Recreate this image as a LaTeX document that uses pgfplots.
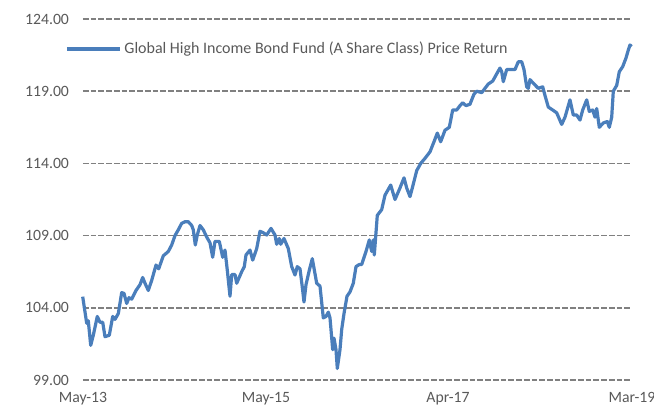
\documentclass[border=0pt]{standalone}
\usepackage{pgfplots}
\pgfplotsset{compat=1.18}
\usepackage{fontspec}
\setmainfont{Carlito}
\definecolor{lineblue}{RGB}{74,126,187}
\definecolor{gridgray}{RGB}{128,128,128}
\definecolor{txtgray}{RGB}{89,89,89}
\begin{document}
\begin{tikzpicture}
\path[use as bounding box] (-62.25pt,-22.5pt) rectangle (428.25pt,285pt);
\begin{axis}[
  scale only axis,
  width=411.75pt, height=270.75pt,
  xmin=0, xmax=549,
  ymin=99, ymax=124,
  ytick={99,104,109,114,119,124},
  xtick={0,183,365,549},
  xticklabels={May-13,May-15,Apr-17,Mar-19},
  axis line style={draw=none},
  major tick length=0pt,
  ymajorgrids,
  grid style={gridgray, line width=1.2pt, dash pattern=on 4.3pt off 1.5pt},
  tick label style={font=\fontsize{11.8}{14}\selectfont, text=txtgray},
  /pgf/number format/assume math mode=true,
  yticklabel={\pgfmathprintnumber[fixed,fixed zerofill,precision=2]{\tick}},
  yticklabel style={xshift=-7pt},
  xticklabel style={yshift=-5.5pt},
  legend style={draw=none, fill=none, at={(-0.0328,0.917)}, anchor=west,
    font=\fontsize{12}{14}\selectfont, text=txtgray, inner sep=0pt},
  legend cell align=left,
  legend image code/.code={\draw[#1, line width=2.4pt] (0cm,0cm) -- (40pt,0cm);},
  clip=false,
]
\addplot[lineblue, line width=2.4pt, line join=round] coordinates {
(-0.3,104.77)(3.7,102.93)(5.3,103.1)(7.7,101.4)(10.3,102.1)(14.3,103.4)(17,103.0)(19.7,103.0)(22,102.0)(26.3,102.1)(29.7,103.4)(32,103.2)(35.3,103.6)(38.7,105.05)(41,105.0)(43.7,104.3)(46,104.7)(48.7,104.6)(53,105.2)(57,105.6)(59.7,106.1)(62,105.7)(65.3,105.2)(68.7,105.9)(73,106.96)(75.7,106.7)(80.3,107.6)(85.3,107.9)(88.7,108.35)(92,109.0)(95.3,109.4)(98.7,109.85)(102,109.96)(105.3,109.96)(108.7,109.7)(110.3,109.4)(112.3,108.35)(114.3,109.04)(117,109.7)(120.3,109.4)(123.7,108.9)(127,108.5)(129.7,107.5)(132,108.6)(136.3,108.6)(139.7,107.5)(142,108.0)(144.3,106.6)(147,104.8)(148.7,106.3)(152,106.3)(153.7,105.7)(158.7,106.5)(161.3,106.85)(163,107.66)(167,108.0)(169.7,107.3)(173.7,108.1)(177,109.3)(180.3,109.2)(183.7,109.04)(188,109.5)(192,109.04)(193.7,108.4)(196.3,108.8)(197.7,108.4)(201,108.8)(205.3,108.1)(208.7,106.85)(212,106.27)(214.3,106.85)(217,106.7)(219.7,105.2)(221,104.4)(223,105.6)(226.3,106.6)(229.3,107.4)(233.7,105.7)(237,105.5)(240.3,103.3)(243,103.4)(245.3,103.7)(247,103.3)(249.7,101.1)(251,101.9)(253,101.1)(254.3,99.8)(257,101.1)(258.7,102.5)(261,103.6)(264,104.8)(267,105.1)(270.3,105.7)(273,106.85)(276.3,107.0)(278.7,107.0)(283,107.9)(286.3,108.7)(288.7,107.9)(290.3,108.7)(291.3,107.66)(294.3,110.4)(298.7,110.8)(302,111.8)(307.7,112.5)(312,111.5)(317,112.3)(321,113.0)(323.7,112.3)(327,111.7)(329.7,112.4)(333.7,113.5)(337.7,114.0)(342,114.35)(347,114.8)(351,115.5)(354.3,116.1)(357.7,115.5)(362,116.3)(366.3,116.5)(369.7,117.7)(373.7,117.7)(377,118.0)(379.7,118.2)(383,118.0)(387,118.1)(391,118.8)(393.7,119.0)(398.7,118.9)(402,119.2)(405.3,119.5)(409.7,119.7)(413.7,120.2)(417,120.6)(418.7,120.35)(420.3,119.66)(423.7,120.5)(428.7,120.5)(432,120.5)(435.3,121.04)(438.7,121.04)(441,120.5)(443.7,119.3)(445.3,119.2)(447,119.8)(451,119.5)(455.3,119.2)(459.7,119.3)(462,118.7)(465.3,117.9)(469.7,117.7)(473.7,117.5)(478.7,116.7)(482,117.2)(487,118.4)(490.3,117.35)(493.7,117.35)(497,117.0)(499.7,117.7)(503.7,118.4)(506.3,117.6)(509.7,117.7)(512,117.2)(513.7,117.8)(516.3,116.5)(520.3,116.8)(524.3,116.9)(526.3,116.5)(528.7,117.2)(530.3,119.0)(533.7,119.4)(536.3,120.35)(539.7,120.7)(543,121.3)(545.3,121.85)(547,122.2)(548.7,122.1)
};
\addlegendentry{Global High Income Bond Fund (A Share Class) Price Return}
\end{axis}
\end{tikzpicture}
\end{document}
